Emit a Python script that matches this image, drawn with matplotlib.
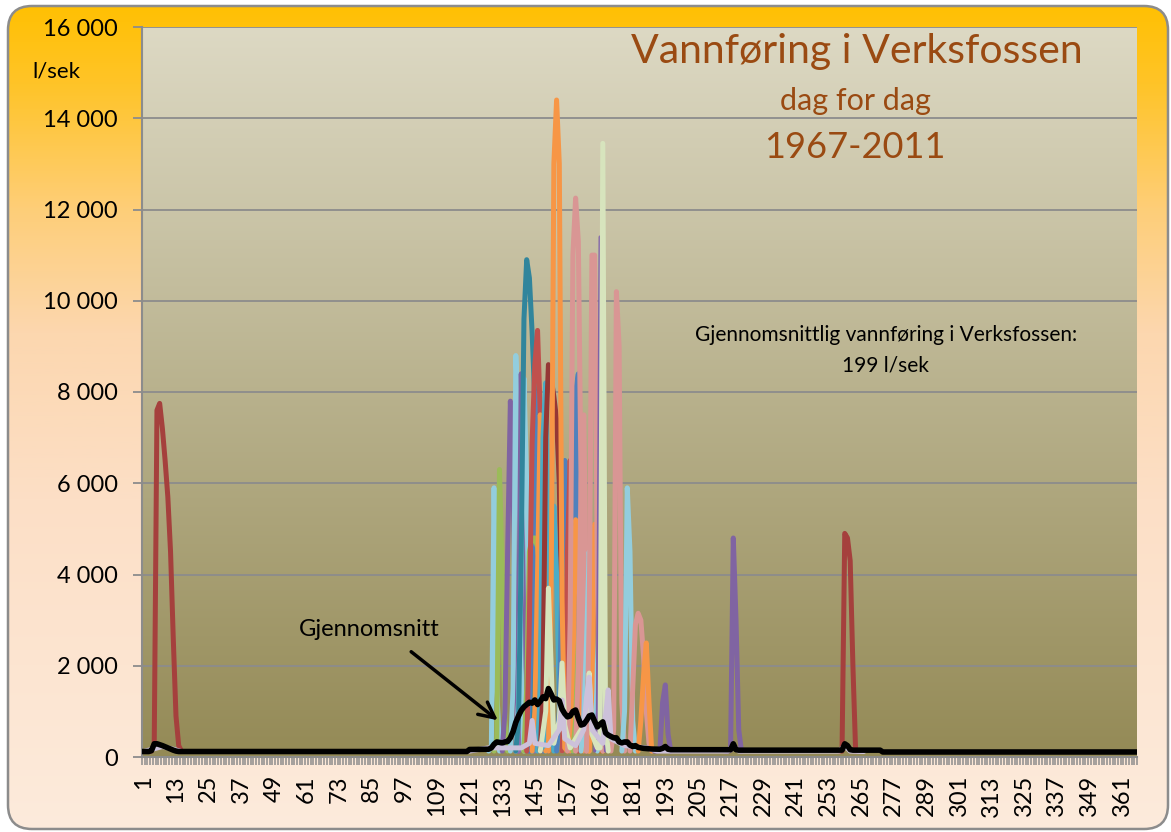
#Vannføring i Verksfossen - dag for dag 1967-2011

import numpy as np
import matplotlib
matplotlib.use('Agg')
import matplotlib.pyplot as plt
from matplotlib.patches import FancyBboxPatch

plt.rcParams['font.family'] = ['Lato', 'DejaVu Sans']

#Data (day of year, l/sek)
red_jan_days = [3, 4, 5, 6, 7, 8, 9, 10, 11, 12, 13, 14, 15]
red_jan_vals = [130, 130, 300, 7600, 7750, 7200, 6500, 5700, 4500, 2600, 900, 250, 130]

lblue_a_days = [128, 129, 130, 131, 132]
lblue_a_vals = [130, 200, 5900, 1500, 130]

green_a_days = [130, 131, 132, 133, 134, 135]
green_a_vals = [130, 400, 6300, 4000, 800, 130]

purple_c_days = [133, 134, 135, 136, 137, 138, 139]
purple_c_vals = [130, 1000, 4500, 7800, 6000, 2500, 130]

lblue_b_days = [136, 137, 138, 139, 140, 141]
lblue_b_vals = [130, 1500, 8800, 7500, 2000, 130]

purple_a_days = [138, 139, 140, 141, 142, 143]
purple_a_vals = [130, 2000, 8400, 5000, 1500, 130]

lblue_d_days = [138, 139, 140, 141, 142, 143, 144]
lblue_d_vals = [130, 1200, 4000, 8300, 6000, 2000, 130]

purple_b_days = [139, 140, 141, 142, 143, 144, 145]
purple_b_vals = [130, 1500, 6500, 5500, 3500, 1200, 130]

teal_days = [138, 139, 140, 141, 142, 143, 144, 145, 146, 147, 148, 149]
teal_vals = [130, 800, 4500, 9600, 10900, 10500, 9300, 7800, 5000, 2000, 400, 130]

blue_a_days = [143, 144, 145, 146, 147, 148]
blue_a_vals = [130, 3000, 8000, 4500, 1000, 130]

green_b_days = [141, 142, 143, 144, 145, 146, 147, 148, 149, 150]
green_b_vals = [130, 1500, 4500, 4800, 4800, 4600, 4000, 2500, 1000, 130]

teal_b_days = [144, 145, 146, 147, 148, 149, 150]
teal_b_vals = [130, 1500, 3500, 5000, 3000, 800, 130]

red_days = [142, 143, 144, 145, 146, 147, 148, 149, 150]
red_vals = [130, 3000, 6900, 8600, 9350, 7500, 4500, 1500, 130]

orange_e_days = [144, 145, 146, 147, 148, 149, 150]
orange_e_vals = [130, 1000, 4000, 7500, 6000, 2000, 130]

aqua_days = [146, 147, 148, 149, 150, 151, 152]
aqua_vals = [130, 1500, 7000, 8200, 5000, 1500, 130]

dred_days = [147, 148, 149, 150, 151, 152, 153, 154, 155, 156, 157]
dred_vals = [130, 1500, 7000, 8600, 8300, 7900, 7400, 6000, 2500, 500, 130]

aqua_b_days = [149, 150, 151, 152, 153, 154, 155]
aqua_b_vals = [130, 1200, 3500, 5500, 4000, 1200, 130]

orange_big_days = [149, 150, 151, 152, 153, 154, 155, 156, 157]
orange_big_vals = [130, 200, 3500, 13000, 14400, 13000, 3500, 200, 130]

blue_c_days = [153, 154, 155, 156, 157, 158, 159]
blue_c_vals = [130, 1000, 4000, 6500, 4500, 1200, 130]

green_c_days = [155, 156, 157, 158, 159, 160]
green_c_vals = [130, 1500, 3000, 2000, 500, 130]

red_b_days = [155, 156, 157, 158, 159, 160, 161]
red_b_vals = [130, 1500, 4500, 6500, 3500, 900, 130]

pink_a_days = [157, 158, 159, 160, 161, 162, 163, 164]
pink_a_vals = [130, 3000, 11000, 12250, 11300, 6000, 800, 130]

blue_b_days = [158, 159, 160, 161, 162, 163]
blue_b_vals = [130, 1000, 8000, 8400, 2000, 130]

orange_b_days = [158, 159, 160, 161, 162, 163]
orange_b_vals = [130, 1500, 5200, 5000, 1500, 130]

green_d_days = [159, 160, 161, 162, 163, 164, 165]
green_d_vals = [130, 800, 2500, 3500, 2800, 900, 130]

pink_e_days = [160, 161, 162, 163, 164, 165]
pink_e_vals = [130, 2000, 6000, 7500, 3000, 130]

brown_days = [164, 165, 166, 167, 168, 169]
brown_vals = [130, 2000, 4700, 4500, 2000, 130]

lblue_e_days = [162, 163, 164, 165, 166, 167, 168]
lblue_e_vals = [130, 800, 2500, 4500, 3500, 1000, 130]

pink_b_days = [164, 165, 166, 167, 168, 169, 170]
pink_b_vals = [130, 3000, 11000, 11000, 4000, 300, 130]

orange_c_days = [165, 166, 167, 168, 169, 170]
orange_c_vals = [130, 1500, 5100, 5000, 1500, 130]

purple_thin_days = [167, 168, 169, 170, 171]
purple_thin_vals = [130, 1000, 11400, 1000, 130]

pink_c_days = [173, 174, 175, 176, 177, 178]
pink_c_vals = [130, 600, 10200, 9000, 1200, 130]

lblue_c_days = [177, 178, 179, 180, 181, 182]
lblue_c_vals = [130, 1000, 5900, 4500, 800, 130]

pink_d_days = [180, 181, 182, 183, 184, 185, 186, 187, 188]
pink_d_vals = [130, 1500, 2900, 3150, 3000, 2200, 1000, 300, 130]

orange_d_days = [183, 184, 185, 186, 187, 188]
orange_d_vals = [130, 800, 1800, 2500, 1200, 130]

purple_jul_days = [189, 190, 191, 192, 193, 194, 195]
purple_jul_vals = [130, 130, 150, 1200, 1580, 500, 130]

purple_aug_days = [215, 216, 217, 218, 219, 220, 221]
purple_aug_vals = [130, 130, 150, 4800, 3000, 600, 130]

red_sep_days = [257, 258, 259, 260, 261, 262, 263]
red_sep_vals = [130, 130, 4900, 4800, 4300, 2000, 130]

pale_days = [147, 149, 150, 151, 152, 154, 155, 156, 158, 164, 165, 166, 168, 169, 170, 171, 172]
pale_vals = [130, 1000, 3700, 2000, 300, 800, 2060, 700, 200, 800, 1840, 500, 200, 200, 13450, 700, 130]

lav_days = [1, 5, 8, 12, 15, 120, 128, 140, 143, 144, 145, 150, 154, 155, 156, 160, 163, 164, 165,
            166, 170, 171, 172, 173, 178, 186, 190, 216, 218, 220, 257, 259, 261, 266]
lav_vals = [120, 180, 230, 170, 120, 120, 200, 200, 300, 800, 300, 250, 600, 1250, 400, 250, 600, 1300, 1750,
            600, 300, 900, 1470, 400, 250, 200, 130, 130, 250, 130, 130, 250, 130, 120]

#Average of all years (Gjennomsnitt)
avg_days = [1, 3, 4, 5, 6, 8, 10, 12, 13, 14, 120, 121, 128, 129, 130, 131, 132, 133, 134, 135, 136, 137,
            138, 139, 140, 141, 142, 143, 144, 145, 146, 147, 148, 149, 150, 151, 152, 153, 154, 155, 156,
            157, 158, 159, 160, 161, 162, 163, 164, 165, 166, 167, 168, 169, 170, 171, 172, 173, 174, 175,
            176, 177, 178, 179, 180, 181, 182, 183, 184, 185, 188, 191, 192, 193, 194, 195, 217, 218, 219,
            220, 258, 259, 260, 261, 262, 272, 273, 366]
avg_vals = [120, 120, 140, 290, 290, 250, 200, 150, 130, 120, 120, 165, 170, 200, 280, 330, 320, 310, 330,
            340, 420, 560, 760, 900, 1020, 1100, 1150, 1200, 1180, 1250, 1150, 1220, 1320, 1280, 1500, 1380,
            1250, 1270, 1230, 1050, 950, 880, 900, 1000, 1030, 850, 700, 720, 800, 900, 920, 780, 660, 720,
            770, 530, 480, 450, 420, 420, 330, 310, 330, 330, 260, 230, 250, 210, 200, 190, 175, 170, 190,
            230, 170, 160, 160, 290, 160, 150, 150, 290, 250, 160, 150, 150, 110, 110]

y_ticks = [0, 2000, 4000, 6000, 8000, 10000, 12000, 14000, 16000]
x_label_days = list(range(1, 362, 12))

#Series in drawing order: (days, values, colour, width)
LW = 3.6
series = [
    (red_jan_days, red_jan_vals, '#A5403D', LW),
    (lblue_a_days, lblue_a_vals, '#93CDDD', LW),
    (green_a_days, green_a_vals, '#9BBB59', LW),
    (purple_c_days, purple_c_vals, '#8064A2', LW),
    (purple_b_days, purple_b_vals, '#8A6DB0', LW),
    (lblue_b_days, lblue_b_vals, '#93CDDD', LW),
    (purple_a_days, purple_a_vals, '#8064A2', LW),
    (lblue_d_days, lblue_d_vals, '#93CDDD', LW),
    (teal_days, teal_vals, '#31859C', LW),
    (blue_a_days, blue_a_vals, '#4F81BD', LW),
    (green_b_days, green_b_vals, '#9BBB59', LW),
    (teal_b_days, teal_b_vals, '#31859C', LW),
    (red_days, red_vals, '#C0504D', LW),
    (orange_e_days, orange_e_vals, '#F79646', LW),
    (aqua_days, aqua_vals, '#4BACC6', LW),
    (dred_days, dred_vals, '#953735', LW),
    (aqua_b_days, aqua_b_vals, '#4BACC6', LW),
    (green_c_days, green_c_vals, '#9BBB59', LW),
    (blue_c_days, blue_c_vals, '#4F81BD', LW),
    (red_b_days, red_b_vals, '#C0504D', LW),
    (orange_big_days, orange_big_vals, '#F79646', LW),
    (blue_b_days, blue_b_vals, '#4F81BD', LW),
    (orange_b_days, orange_b_vals, '#F79646', LW),
    (green_d_days, green_d_vals, '#9BBB59', LW),
    (brown_days, brown_vals, '#B96E28', LW),
    (pink_e_days, pink_e_vals, '#D99694', LW),
    (pink_a_days, pink_a_vals, '#D99694', LW),
    (lblue_e_days, lblue_e_vals, '#93CDDD', LW),
    (orange_c_days, orange_c_vals, '#F79646', LW),
    (pink_b_days, pink_b_vals, '#D99694', LW),
    (purple_thin_days, purple_thin_vals, '#7F60A8', 2.2),
    (pink_c_days, pink_c_vals, '#D99694', LW),
    (lblue_c_days, lblue_c_vals, '#93CDDD', LW),
    (pink_d_days, pink_d_vals, '#D99694', LW),
    (orange_d_days, orange_d_vals, '#F79646', LW),
    (purple_jul_days, purple_jul_vals, '#8064A2', LW),
    (purple_aug_days, purple_aug_vals, '#8064A2', LW),
    (red_sep_days, red_sep_vals, '#A5403D', LW),
    (pale_days, pale_vals, '#D7E4BD', LW),
    (lav_days, lav_vals, '#CCC1DA', LW),
]

W, H = 1171, 832
fig = plt.figure(figsize=(W / 100, H / 100), dpi=100)
fig.patch.set_facecolor('white')

# Outer background with rounded frame
bg = fig.add_axes([0, 0, 1, 1], zorder=-10)
pos = np.linspace(0, 1, 400)
stops = [0.0, 0.1, 0.25, 0.4, 0.6, 1.0]
rgb = np.array([[255, 192, 0], [255, 196, 40], [254, 206, 120], [252, 215, 175],
                [252, 223, 198], [253, 235, 220]]) / 255
grad = np.stack([np.interp(pos, stops, rgb[:, c]) for c in range(3)], axis=1)[:, None, :]
im = bg.imshow(grad, extent=[0, W, 0, H], aspect='auto', origin='upper')
frame = FancyBboxPatch((8, 3), W - 11, H - 9, boxstyle='round,pad=0,rounding_size=24',
                       fc='none', ec='#8C8C8C', lw=1.8)
bg.add_patch(frame)
im.set_clip_path(frame)
bg.set_xlim(0, W)
bg.set_ylim(0, H)
bg.axis('off')

# Plot area
ax = fig.add_axes([142 / W, (H - 757) / H, (1137 - 142) / W, (757 - 27) / H])
top = np.array([221, 217, 196]) / 255
bot = np.array([148, 138, 86]) / 255
pgrad = np.stack([np.interp(pos, [0, 1], [top[c], bot[c]]) for c in range(3)], axis=1)[:, None, :]
ax.imshow(pgrad, extent=[0.5, 366.5, 0, 16000], aspect='auto', origin='upper', zorder=0)

for d, v, c, lw in series:
    ax.plot(d, v, color=c, lw=lw, solid_joinstyle='round', solid_capstyle='round', zorder=2)
ax.plot(avg_days, avg_vals, color='black', lw=4.0, solid_joinstyle='round', zorder=3)

ax.set_xlim(0.5, 366.5)
ax.set_ylim(0, 16000)
ax.set_yticks(y_ticks)
ax.set_yticklabels([f'{v:,}'.replace(',', ' ') for v in y_ticks])
ax.set_xticks(x_label_days)
ax.set_xticklabels([str(d) for d in x_label_days], rotation=90)
ax.set_xticks(np.arange(0.5, 367, 1), minor=True)
ax.grid(axis='y', color='#8C8C8C', lw=1.3, zorder=1)
ax.set_axisbelow(True)
ax.tick_params(axis='y', length=6.5, width=1.3, color='#8C8C8C', pad=11, labelsize=17)
ax.tick_params(axis='x', which='major', length=0, pad=13, labelsize=17)
ax.tick_params(axis='x', which='minor', length=5.5, width=1.1, color='#8C8C8C')
for s in ['top', 'right']:
    ax.spines[s].set_visible(False)
ax.spines['left'].set_color('#8C8C8C')
ax.spines['left'].set_linewidth(1.5)
ax.spines['bottom'].set_color('#8C8C8C')
ax.spines['bottom'].set_linewidth(1.5)

# Texts
brown_txt = '#9A4A12'
fig.text(857 / W, 1 - 52 / H, 'Vannføring i Verksfossen', color=brown_txt, fontsize=29.5, ha='center', va='center')
fig.text(855 / W, 1 - 101 / H, 'dag for dag', color=brown_txt, fontsize=22, ha='center', va='center')
fig.text(855 / W, 1 - 148 / H, '1967-2011', color=brown_txt, fontsize=26, ha='center', va='center')
fig.text(886 / W, 1 - 335 / H, 'Gjennomsnittlig vannføring i Verksfossen:', fontsize=15, ha='center', va='center')
fig.text(885 / W, 1 - 366 / H, '199 l/sek', fontsize=15, ha='center', va='center')
fig.text(56 / W, 1 - 72 / H, 'l/sek', fontsize=16, ha='center', va='center')
ax.annotate('Gjennomsnitt', xy=(500, H - 722), xytext=(369, H - 630), xycoords='figure pixels',
            textcoords='figure pixels', fontsize=17, ha='center', va='center', zorder=5)
ax.annotate('', xy=(500, H - 722), xytext=(409, H - 650), xycoords='figure pixels',
            textcoords='figure pixels',
            arrowprops=dict(arrowstyle='->', lw=2.5, color='black', mutation_scale=28), zorder=5)

plt.savefig('out.png', dpi=100)
